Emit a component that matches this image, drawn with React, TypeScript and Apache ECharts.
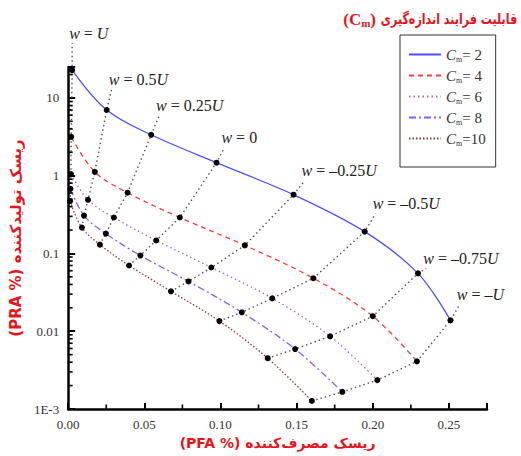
import React, { useEffect, useRef } from 'react';
import * as echarts from 'echarts';

// w levels (order along each curve, from w = U to w = -U)
const wLabels = ['U', '0.5U', '0.25U', '0', '–0.25U', '–0.5U', '–0.75U', '–U'];
const cmNames = ['Cm= 2', 'Cm= 4', 'Cm= 6', 'Cm= 8', 'Cm=10'];

// PFA (%) and PRA (%) per curve
const cm2X = [0.0026, 0.0253, 0.0545, 0.0974, 0.148, 0.1947, 0.2297, 0.251];
const cm2Y = [22.8, 7.0, 3.36, 1.47, 0.57, 0.191, 0.0555, 0.0138];
const cm4X = [0.002, 0.0175, 0.039, 0.0733, 0.116, 0.161, 0.2, 0.229];
const cm4Y = [3.16, 1.12, 0.605, 0.29, 0.127, 0.048, 0.0156, 0.0041];
const cm6X = [0.0018, 0.013, 0.03, 0.0578, 0.094, 0.134, 0.172, 0.203];
const cm6Y = [1.05, 0.49, 0.29, 0.147, 0.066, 0.0265, 0.0086, 0.00235];
const cm8X = [0.0015, 0.0104, 0.0247, 0.0474, 0.079, 0.114, 0.149, 0.18];
const cm8Y = [0.68, 0.307, 0.18, 0.094, 0.0437, 0.0175, 0.0059, 0.00166];
const cm10X = [0.0012, 0.009, 0.0208, 0.04, 0.0675, 0.0993, 0.131, 0.16];
const cm10Y = [0.47, 0.215, 0.13, 0.07, 0.0326, 0.0135, 0.0045, 0.00127];

// where each w line ends (label anchor)
const wAnchorX = [0.0026, 0.0286, 0.0597, 0.1026, 0.1552, 0.2019, 0.2351, 0.2571];
const wAnchorY = [50.7, 13.0, 5.87, 2.29, 0.86, 0.326, 0.0643, 0.0222];

// axis ticks
const yTickValues = [0.001, 0.01, 0.1, 1, 10];
const yTickLabels = ['1E-3', '0.01', '0.1', '1', '10'];
const yMinorTicks = [
  0.002, 0.003, 0.004, 0.005, 0.006, 0.007, 0.008, 0.009,
  0.02, 0.03, 0.04, 0.05, 0.06, 0.07, 0.08, 0.09,
  0.2, 0.3, 0.4, 0.5, 0.6, 0.7, 0.8, 0.9,
  2, 3, 4, 5, 6, 7, 8, 9,
  20,
];
const xMinorTicks = [0.025, 0.075, 0.125, 0.175, 0.225];

const curveColors = ['#4f4fff', '#ff3b3b', '#a466c8', '#8a5cff', '#8b3a3a'];
const curveDash: any[] = ['solid', [5, 4], [1.5, 3], [7, 3, 2, 3], [1.5, 2]];

const SERIF = 'Liberation Serif';
const RED = '#e8141c';

export default function App() {
  const ref = useRef<HTMLDivElement>(null);
  useEffect(() => {
    if (!ref.current) return;
    const chart = echarts.init(ref.current, undefined, { renderer: 'svg' });
    const xs = [cm2X, cm4X, cm6X, cm8X, cm10X];
    const ys = [cm2Y, cm4Y, cm6Y, cm8Y, cm10Y];

    const curveSeries = cmNames.map((name, i) => ({
      name,
      type: 'line',
      data: xs[i].map((x, j) => [x, ys[i][j]]),
      smooth: 0.35,
      symbol: 'none',
      clip: false,
      z: 2,
      lineStyle: { color: curveColors[i], width: 1.3, type: curveDash[i] },
      itemStyle: { color: curveColors[i] },
    }));

    const wText = (s: string) => {
      if (s.endsWith('U')) {
        const num = s.slice(0, -1);
        return `{i|w}{n| = ${num}}{i|U}`;
      }
      return `{i|w}{n| = ${s}}`;
    };

    const wSeries = wLabels.map((lab, j) => {
      const pts: any[] = [];
      for (let i = xs.length - 1; i >= 0; i--) pts.push([xs[i][j], ys[i][j]]);
      pts.push({
        value: [wAnchorX[j], wAnchorY[j]],
        symbolSize: 0,
        label: {
          show: true,
          position: 'right',
          distance: 0,
          offset: [-3, -10],
          formatter: wText(lab),
          rich: {
            i: { fontFamily: SERIF, fontStyle: 'italic', fontSize: 16, color: '#222' },
            n: { fontFamily: SERIF, fontSize: 16, color: '#222' },
          },
        },
      });
      return {
        name: 'w' + j,
        type: 'line',
        data: pts,
        clip: false,
        z: 3,
        symbol: 'circle',
        symbolSize: 6,
        itemStyle: { color: '#000' },
        lineStyle: { color: '#555', width: 1.4, type: [1.5, 3] },
      };
    });

    const yMinorSeries = {
      type: 'custom',
      z: 5,
      clip: false,
      silent: true,
      data: yMinorTicks.map((v) => [0, v]),
      renderItem: (params: any, api: any) => {
        const p = api.coord([0, api.value(1)]);
        return {
          type: 'line',
          shape: { x1: p[0], y1: p[1], x2: p[0] + 4.5, y2: p[1] },
          style: { stroke: '#000', lineWidth: 1.6 },
        };
      },
    };
    const xMinorSeries = {
      type: 'custom',
      z: 5,
      clip: false,
      silent: true,
      data: xMinorTicks.map((v) => [v, 0.001]),
      renderItem: (params: any, api: any) => {
        const p = api.coord([api.value(0), 0.001]);
        return {
          type: 'line',
          shape: { x1: p[0], y1: p[1], x2: p[0], y2: p[1] - 4.5 },
          style: { stroke: '#000', lineWidth: 1.6 },
        };
      },
    };

    const option: any = {
      animation: false,
      backgroundColor: '#fff',
      graphic: [
        {
          type: 'text',
          x: 449,
          y: 19,
          scaleX: 0.74,
          style: {
            text: 'قابلیت فرایند اندازه‌گیری',
            fontFamily: 'DejaVu Sans',
            fontWeight: 'bold',
            fontSize: 15,
            fill: RED,
            textAlign: 'center',
            textVerticalAlign: 'middle',
          },
        },
        {
          type: 'text',
          x: 376,
          y: 19,
          style: {
            text: '{p|(C}{s|m}{p|)}',
            textAlign: 'right',
            textVerticalAlign: 'middle',
            rich: {
              p: { fontFamily: SERIF, fontWeight: 'bold', fontSize: 17, fill: RED, color: RED },
              s: { fontFamily: SERIF, fontWeight: 'bold', fontSize: 11, fill: RED, color: RED, padding: [8, 0, 0, 0] },
            },
          },
        },
      ],
      legend: {
        data: cmNames,
        orient: 'vertical',
        left: 400,
        top: 35,
        width: 92,
        itemWidth: 32,
        itemHeight: 10,
        itemGap: 5,
        padding: [12, 10, 20, 8],
        borderColor: '#333',
        borderWidth: 1,
        backgroundColor: '#fff',
        itemStyle: { opacity: 0 },
        formatter: (name: string) => `{c|C}{m|m}{e|${name.slice(2)}}`,
        textStyle: {
          rich: {
            c: { fontFamily: SERIF, fontStyle: 'italic', fontSize: 15, color: '#333' },
            m: { fontFamily: SERIF, fontSize: 8, color: '#333', padding: [9, 0, 0, 0] },
            e: { fontFamily: SERIF, fontSize: 15, color: '#333' },
          },
        },
      },
      grid: { left: 64, right: 34, top: 67, bottom: 47, containLabel: false },
      xAxis: {
        type: 'value',
        min: 0,
        max: 0.275,
        interval: 0.05,
        axisLine: { show: true, lineStyle: { color: '#000', width: 2.5 } },
        axisTick: { show: true, inside: true, length: 6, lineStyle: { color: '#000', width: 2 } },
        splitLine: { show: false },
        axisLabel: {
          fontFamily: SERIF,
          fontSize: 13,
          color: '#333',
          margin: 9,
          formatter: (v: number) => {
            const r = v / 0.05;
            return Math.abs(r - Math.round(r)) < 1e-6 ? v.toFixed(2) : '';
          },
        },
        name: '(PFA %) ریسک مصرف‌کننده',
        nameLocation: 'middle',
        nameGap: 24,
        nameTextStyle: { fontFamily: 'DejaVu Sans', fontWeight: 'bold', fontSize: 14, color: RED },
      },
      yAxis: {
        type: 'log',
        logBase: 10,
        min: 0.001,
        max: 25,
        axisLine: { show: true, lineStyle: { color: '#000', width: 2.5 } },
        axisTick: { show: true, inside: true, length: 7, lineStyle: { color: '#000', width: 2 } },
        splitLine: { show: false },
        axisLabel: {
          fontFamily: SERIF,
          fontSize: 13,
          color: '#333',
          margin: 9,
          formatter: (v: number) => {
            for (let k = 0; k < yTickValues.length; k++) {
              if (Math.abs(Math.log10(v) - Math.log10(yTickValues[k])) < 1e-6) return yTickLabels[k];
            }
            return '';
          },
        },
        name: '(PRA %) ریسک تولیدکننده',
        nameLocation: 'middle',
        nameGap: 38,
        nameRotate: 90,
        nameTextStyle: { fontFamily: 'DejaVu Sans', fontWeight: 'bold', fontSize: 15, color: RED },
      },
      series: [...curveSeries, ...wSeries, yMinorSeries, xMinorSeries],
    };
    chart.setOption(option);
    return () => chart.dispose();
  }, []);
  return <div ref={ref} style={{ position: 'fixed', left: 0, top: 0, width: 521, height: 456 }} />;
}
